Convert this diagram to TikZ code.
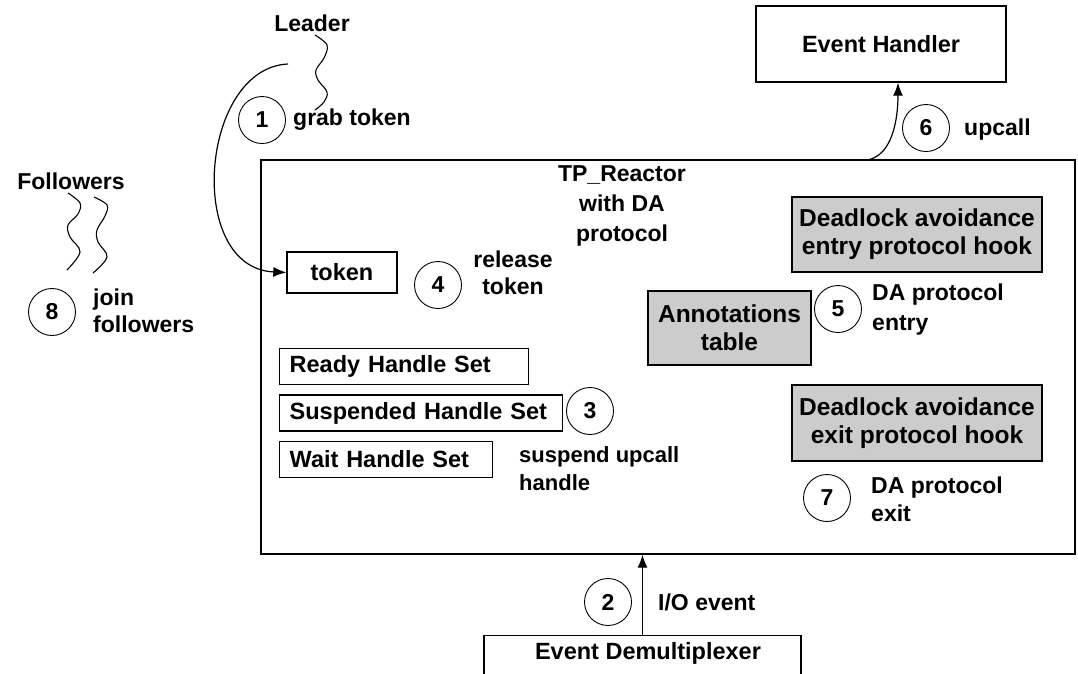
\documentclass[tikz,border=0pt]{standalone}
\usepackage{fontspec}
\setmainfont{Liberation Sans}
\usetikzlibrary{arrows.meta}
\begin{document}
\begin{tikzpicture}[x=1pt,y=-1pt,
  txt/.style={font=\bfseries\fontsize{23}{28}\selectfont, inner sep=0pt},
  box/.style={draw, line width=1.4pt, inner sep=0pt, font=\bfseries\fontsize{23.5}{28}\selectfont},
  grbox/.style={box, fill=gray!40, align=center, font=\bfseries\fontsize{24.5}{28}\selectfont},
  lbox/.style={box, anchor=west, inner xsep=10pt, align=left, minimum height=36pt},
  num/.style={draw, circle, line width=0.9pt, minimum size=47pt, inner sep=0pt, font=\bfseries\fontsize{23}{28}\selectfont},
  arr/.style={line width=1.2pt, -{Latex[length=13pt,width=10pt]}},
  wavy/.style={line width=1.1pt}]
\clip (0,0) rectangle (1078,673);
\fill[white] (0,0) rectangle (1078,673);

% main reactor box
\node[box, minimum width=814pt, minimum height=394pt] (reactor) at (668,357) {};
\node[txt, align=center, font=\bfseries\fontsize{23}{30}\selectfont] (tptxt) at (622,206) {TP\_Reactor\\with DA\\protocol};

% event handler
\node[box, minimum width=250pt, minimum height=76pt] (eh) at (881,44) {Event Handler};

% token
\node[box, minimum width=110pt, minimum height=41pt] (token) at (342,272.5) {token};

% handle sets
\node[lbox, text width=229pt] (ready) at (279,366.5) {Ready Handle Set};
\node[lbox, text width=263pt] (susp) at (279,413) {Suspended Handle Set};
\node[lbox, text width=193pt] (wait) at (279,459.5) {Wait Handle Set};

% gray boxes
\node[grbox, minimum width=250pt, minimum height=75pt] (entry) at (917,234.5) {Deadlock avoidance\\entry protocol hook};
\node[grbox, minimum width=163pt, minimum height=74pt] (annot) at (729.5,328) {Annotations\\table};
\node[grbox, minimum width=250pt, minimum height=76pt] (exitb) at (917,423) {Deadlock avoidance\\exit protocol hook};

% event demultiplexer
\node[box, minimum width=317pt, minimum height=70pt, anchor=north] (demux) at (642.5,635) {};
\node[txt, font=\bfseries\fontsize{23.5}{28}\selectfont] (demuxt) at (648,653) {Event Demultiplexer};

% numbered circles
\node[num] (c1) at (262,120) {1};
\node[num] (c2) at (608,602) {2};
\node[num] (c3) at (590,411) {3};
\node[num] (c4) at (438,285) {4};
\node[num] (c5) at (838,309) {5};
\node[num] (c6) at (926,128) {6};
\node[num] (c7) at (827,498) {7};
\node[num] (c8) at (52,312) {8};

% labels
\node[txt] (leader) at (312,23) {Leader};
\node[txt, anchor=west] (grab) at (293,120) {grab token};
\node[txt] (followers) at (71,181) {Followers};
\node[txt, anchor=west, align=left, font=\bfseries\fontsize{23}{27}\selectfont] (join) at (93,311) {join\\followers};
\node[txt, align=center, font=\bfseries\fontsize{23}{27}\selectfont] (release) at (513,273) {release\\token};
\node[txt, anchor=west] (upcall) at (964,130) {upcall};
\node[txt, anchor=west, align=left, font=\bfseries\fontsize{23}{30}\selectfont] (daentry) at (872,310) {DA protocol\\entry};
\node[txt, anchor=west, align=left, font=\bfseries\fontsize{23}{28}\selectfont] (daexit) at (871,499) {DA protocol\\exit};
\node[txt, anchor=west, align=left, font=\bfseries\fontsize{22}{28}\selectfont] (suspup) at (519,469) {suspend upcall\\handle};
\node[txt, anchor=west] (io) at (658,602) {I/O event};

% connectors
\coordinate (grabS) at (288,64);
\draw[arr] (grabS) .. controls (200,68) and (185,268) .. (token.west);
\coordinate (upS) at (867,160);
\draw[arr] (upS) .. controls (892,156) and (898,120) .. ([xshift=17pt]eh.south);
\draw[arr] (demux.north) -- (demux.north |- reactor.south);

% squiggles
\draw[wavy] plot[smooth, tension=0.6] coordinates {(315,35) (327,45) (324,58) (316,70) (318,80) (327,92) (324,102) (315,110)};
\draw[wavy] plot[smooth, tension=0.6] coordinates {(68,193) (80,203) (78,214) (68,225) (70,237) (80,252) (67,270)};
\draw[wavy] plot[smooth, tension=0.6] coordinates {(94,197) (107,205) (105,216) (97,230) (98,242) (107,257) (93,273)};
\end{tikzpicture}
\end{document}
